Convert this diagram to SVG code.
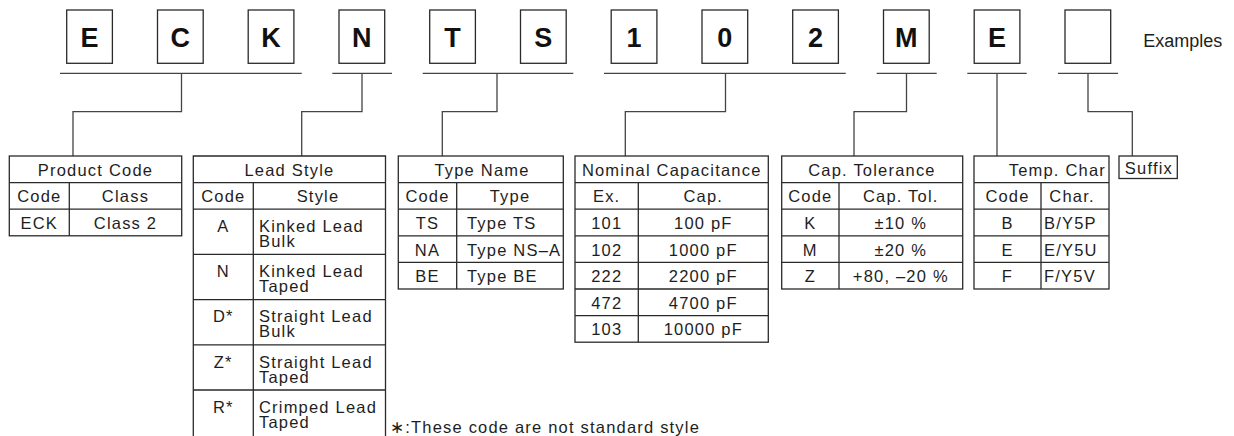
<svg xmlns="http://www.w3.org/2000/svg" width="1234" height="436" viewBox="0 0 1234 436">
<style>
text{font-family:"Liberation Sans",Arial,Helvetica,sans-serif;font-size:16.5px;letter-spacing:1.2px;fill:#1e1e1e}
.c{text-anchor:middle}
.e{text-anchor:end}
.k{font-weight:bold;font-size:27px;letter-spacing:0;text-anchor:middle;fill:#111}
.x{font-size:18px;letter-spacing:0}
.bx{fill:#fff;stroke:#2a2a2a;stroke-width:1.3}
.tb{fill:none;stroke:#2a2a2a;stroke-width:1.3}
.cn{fill:none;stroke:#444;stroke-width:1.3}
</style>
<rect width="1234" height="436" fill="#fff"/>

<g id="code-boxes">
<g id="box-E1"><rect class="bx" x="66.7" y="10" width="45.7" height="53.3"/><text class="k" x="89.5" y="46.7">E</text></g>
<g id="box-C"><rect class="bx" x="157.5" y="10" width="45.7" height="53.3"/><text class="k" x="180.3" y="46.7">C</text></g>
<g id="box-K"><rect class="bx" x="248.2" y="10" width="45.7" height="53.3"/><text class="k" x="271" y="46.7">K</text></g>
<g id="box-N"><rect class="bx" x="339" y="10" width="45.7" height="53.3"/><text class="k" x="361.8" y="46.7">N</text></g>
<g id="box-T"><rect class="bx" x="429.7" y="10" width="45.7" height="53.3"/><text class="k" x="452.5" y="46.7">T</text></g>
<g id="box-S"><rect class="bx" x="520.5" y="10" width="45.7" height="53.3"/><text class="k" x="543.3" y="46.7">S</text></g>
<g id="box-1"><rect class="bx" x="611.2" y="10" width="45.7" height="53.3"/><text class="k" x="634" y="46.7">1</text></g>
<g id="box-0"><rect class="bx" x="702" y="10" width="45.7" height="53.3"/><text class="k" x="724.8" y="46.7">0</text></g>
<g id="box-2"><rect class="bx" x="792.7" y="10" width="45.7" height="53.3"/><text class="k" x="815.5" y="46.7">2</text></g>
<g id="box-M"><rect class="bx" x="883.5" y="10" width="45.7" height="53.3"/><text class="k" x="906.3" y="46.7">M</text></g>
<g id="box-E2"><rect class="bx" x="974.2" y="10" width="45.7" height="53.3"/><text class="k" x="997" y="46.7">E</text></g>
<g id="box-blank"><rect class="bx" x="1065" y="10" width="45.7" height="53.3"/></g>
<text id="examples" class="x" x="1143.3" y="46.7">Examples</text>
</g>

<g id="connectors">
<path class="cn" d="M60 73.3H301.7M332.3 73.3H392M422.7 73.3H573.3M604 73.3H845.7M876.7 73.3H936.7M967.3 73.3H1026.7M1058 73.3H1118"/>
<path class="cn" d="M181.5 73.3V111.7H73V156"/>
<path class="cn" d="M362 73.3V111.7H301.7V156"/>
<path class="cn" d="M497 73.3V111.7H442.3V156"/>
<path class="cn" d="M725.5 73.3V111.7H625.3V156"/>
<path class="cn" d="M906.5 73.3V111.7H854V156"/>
<path class="cn" d="M997 73.3V156"/>
<path class="cn" d="M1088 73.3V111.7H1132.3V156"/>
</g>

<g id="product-code">
<rect class="tb" x="9.3" y="156" width="172.4" height="79.8"/>
<path class="tb" d="M9.3 182.6H181.7M9.3 209.2H181.7M69.3 182.6V235.8"/>
<text class="c" x="95.5" y="175.8">Product Code</text>
<text class="c" x="39.3" y="202.4">Code</text>
<text class="c" x="125.5" y="202.4">Class</text>
<text class="c" x="39.3" y="229">ECK</text>
<text class="c" x="125.5" y="229">Class 2</text>
</g>

<g id="lead-style">
<path class="tb" d="M193.3 436V156H385.5V436M193.3 182.6H385.5M193.3 209.2H385.5M193.3 254.4H385.5M193.3 299.6H385.5M193.3 344.8H385.5M193.3 390H385.5M253.3 182.6V436"/>
<text class="c" x="289.4" y="175.8">Lead Style</text>
<text class="c" x="223.3" y="202.4">Code</text>
<text class="c" x="318" y="202.4">Style</text>
<text class="c" x="223.3" y="232">A</text>
<text x="259" y="232">Kinked Lead</text>
<text x="259" y="247">Bulk</text>
<text class="c" x="223.3" y="277.2">N</text>
<text x="259" y="277.2">Kinked Lead</text>
<text x="259" y="292.2">Taped</text>
<text class="c" x="223.3" y="322.4">D*</text>
<text x="259" y="322.4">Straight Lead</text>
<text x="259" y="337.4">Bulk</text>
<text class="c" x="223.3" y="367.6">Z*</text>
<text x="259" y="367.6">Straight Lead</text>
<text x="259" y="382.6">Taped</text>
<text class="c" x="223.3" y="412.8">R*</text>
<text x="259" y="412.8">Crimped Lead</text>
<text x="259" y="427.8">Taped</text>
</g>

<g id="type-name">
<rect class="tb" x="398.3" y="156" width="165" height="133"/>
<path class="tb" d="M398.3 182.6H563.3M398.3 209.2H563.3M398.3 235.8H563.3M398.3 262.4H563.3M456.7 182.6V289"/>
<text class="c" x="482" y="175.8">Type Name</text>
<text class="c" x="427.5" y="202.4">Code</text>
<text class="c" x="510" y="202.4">Type</text>
<text class="c" x="427.5" y="229">TS</text>
<text x="467" y="229">Type TS</text>
<text class="c" x="427.5" y="255.6">NA</text>
<text x="467" y="255.6">Type NS–A</text>
<text class="c" x="427.5" y="282.2">BE</text>
<text x="467" y="282.2">Type BE</text>
</g>

<g id="nominal-capacitance">
<rect class="tb" x="575" y="156" width="193.3" height="186.2"/>
<path class="tb" d="M575 182.6H768.3M575 209.2H768.3M575 235.8H768.3M575 262.4H768.3M575 289H768.3M575 315.6H768.3M638.3 182.6V342.2"/>
<text class="c" x="671.7" y="175.8">Nominal Capacitance</text>
<text class="c" x="606.7" y="202.4">Ex.</text>
<text class="c" x="703.3" y="202.4">Cap.</text>
<text class="c" x="606.7" y="229">101</text>
<text class="c" x="703.3" y="229">100 pF</text>
<text class="c" x="606.7" y="255.6">102</text>
<text class="c" x="703.3" y="255.6">1000 pF</text>
<text class="c" x="606.7" y="282.2">222</text>
<text class="c" x="703.3" y="282.2">2200 pF</text>
<text class="c" x="606.7" y="308.8">472</text>
<text class="c" x="703.3" y="308.8">4700 pF</text>
<text class="c" x="606.7" y="335.4">103</text>
<text class="c" x="703.3" y="335.4">10000 pF</text>
</g>

<g id="cap-tolerance">
<rect class="tb" x="781.7" y="156" width="181" height="133"/>
<path class="tb" d="M781.7 182.6H962.7M781.7 209.2H962.7M781.7 235.8H962.7M781.7 262.4H962.7M839 182.6V289"/>
<text class="c" x="872" y="175.8">Cap. Tolerance</text>
<text class="c" x="810.3" y="202.4">Code</text>
<text class="c" x="900.8" y="202.4">Cap. Tol.</text>
<text class="c" x="810.3" y="229">K</text>
<text class="c" x="900.8" y="229">±10 %</text>
<text class="c" x="810.3" y="255.6">M</text>
<text class="c" x="900.8" y="255.6">±20 %</text>
<text class="c" x="810.3" y="282.2">Z</text>
<text class="c" x="900.8" y="282.2">+80, –20 %</text>
</g>

<g id="temp-char">
<rect class="tb" x="974" y="156" width="135" height="133"/>
<path class="tb" d="M974 182.6H1109M974 209.2H1109M974 235.8H1109M974 262.4H1109M1041 182.6V289"/>
<text class="e" x="1106" y="175.8">Temp. Char</text>
<text class="c" x="1007.5" y="202.4">Code</text>
<text class="c" x="1072" y="202.4">Char.</text>
<text class="c" x="1007.5" y="229">B</text>
<text x="1044" y="229">B/Y5P</text>
<text class="c" x="1007.5" y="255.6">E</text>
<text x="1044" y="255.6">E/Y5U</text>
<text class="c" x="1007.5" y="282.2">F</text>
<text x="1044" y="282.2">F/Y5V</text>
</g>

<g id="suffix">
<rect class="tb" x="1119" y="156" width="58.3" height="22.5"/>
<text class="c" x="1148.9" y="173.5">Suffix</text>
</g>

<text id="footnote" x="390" y="433">∗:These code are not standard style</text>
</svg>
